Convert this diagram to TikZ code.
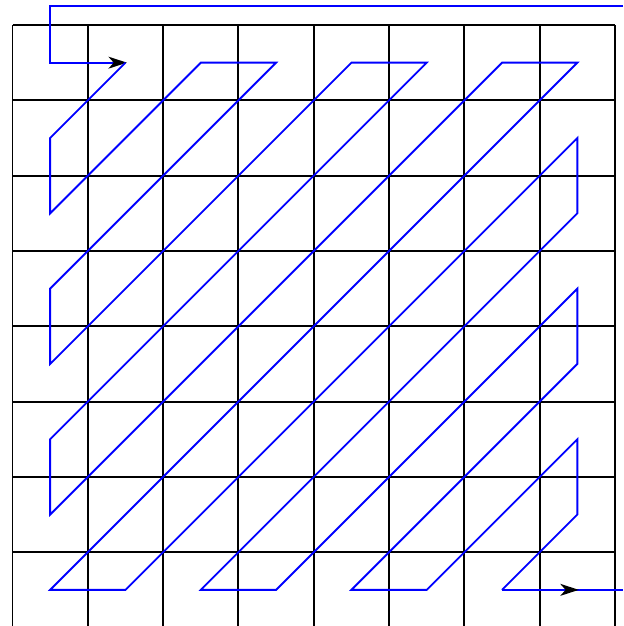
\documentclass[tikz,border=0pt]{standalone}
\usetikzlibrary{arrows.meta}
\begin{document}
\begin{tikzpicture}[x=1cm,y=1cm,
  gridline/.style={black,line width=0.75pt},
  scanline/.style={blue,line width=0.7pt,line join=miter},
  scanarrow/.style={scanline,-{Stealth[length=7pt,width=4.5pt,inset=2pt,black]}}]
\useasboundingbox (-0.166,-7.98) rectangle (8.108,0.332);
% grid
\foreach \i in {0,...,8} {
  \draw[gridline] (\i,0) -- (\i,-8);
  \draw[gridline] (0,-\i) -- (8,-\i);
}
% cell centres
\foreach \r in {0,...,7} {
  \foreach \c in {0,...,7} {
    \coordinate (p-\r-\c) at (\c+0.5,-\r-0.5);
  }
}
\coordinate (entry) at (8.108,0.252);
\coordinate (bend) at (0.5,0.252);
\coordinate (exit) at (8.108,-7.5);
\coordinate (tipA) at (1.52,-0.5);
\coordinate (tipB) at (7.52,-7.5);
% entry
\draw[scanarrow] (entry) -- (bend) -- (p-0-0) -- (tipA);
% zigzag
\draw[scanline] (p-0-1) -- (p-1-0) -- (p-2-0) -- (p-0-2) -- (p-0-3) -- (p-3-0)
  -- (p-4-0) -- (p-0-4) -- (p-0-5) -- (p-5-0) -- (p-6-0) -- (p-0-6) -- (p-0-7)
  -- (p-7-0) -- (p-7-1) -- (p-1-7) -- (p-2-7) -- (p-7-2) -- (p-7-3) -- (p-3-7)
  -- (p-4-7) -- (p-7-4) -- (p-7-5) -- (p-5-7) -- (p-6-7) -- (p-7-6);
\draw[scanline] (p-7-6) -- (exit);
\draw[scanarrow] (p-7-6) -- (tipB);
\end{tikzpicture}
\end{document}
